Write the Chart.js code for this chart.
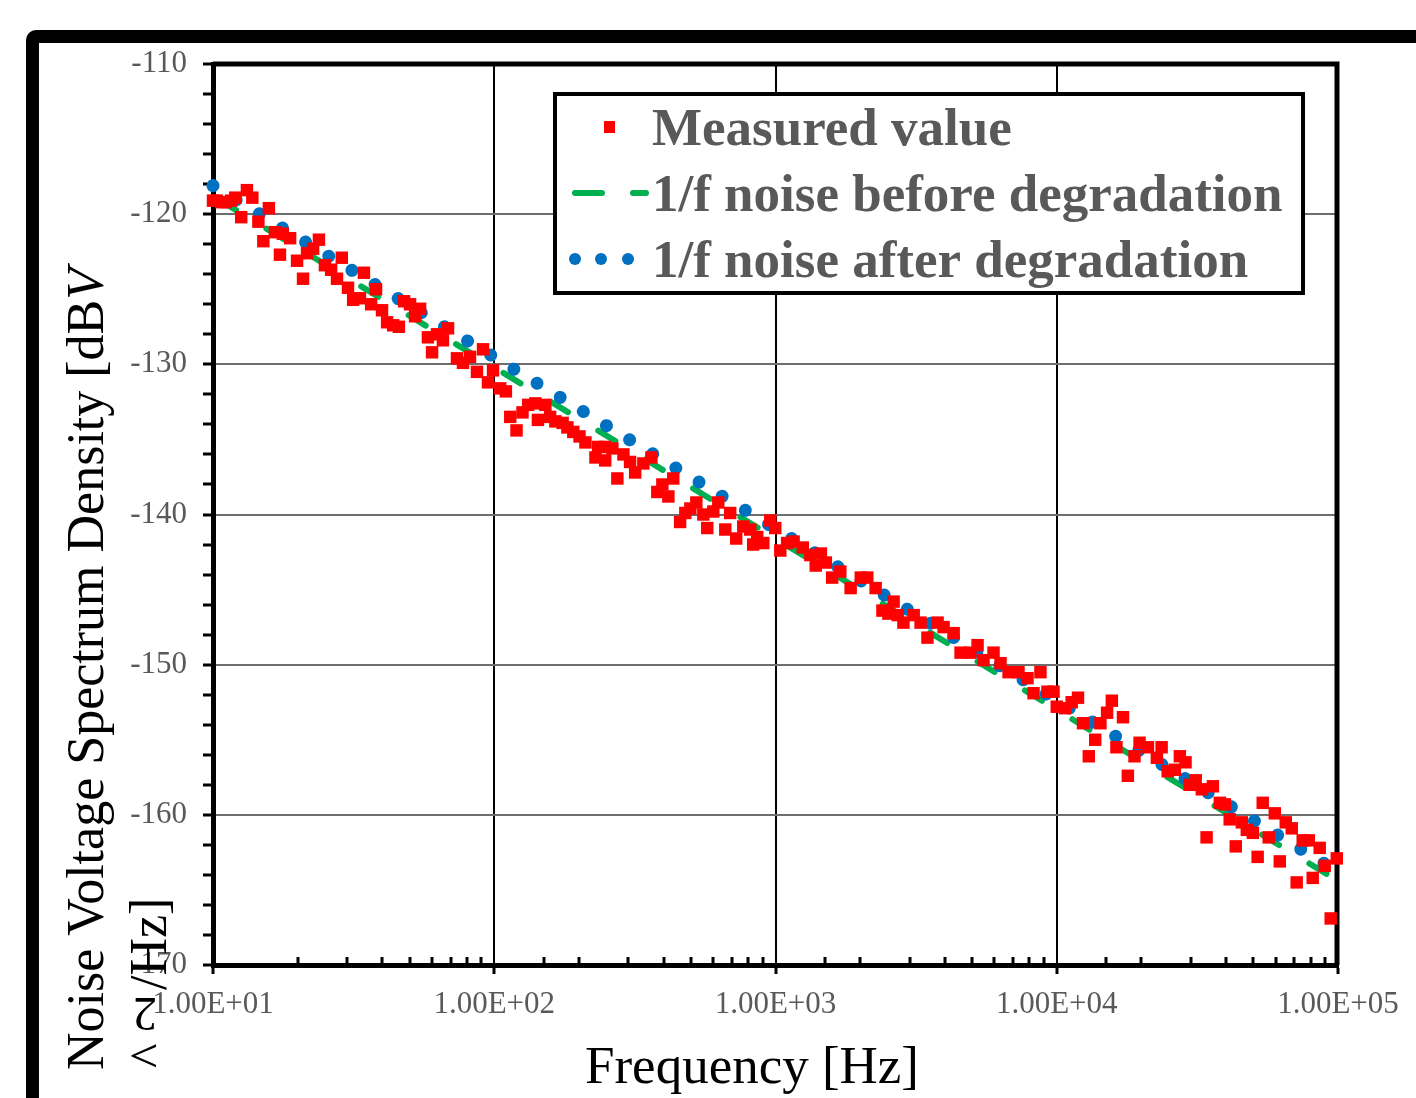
<!DOCTYPE html>
<html>
<head>
<meta charset="utf-8">
<script src="https://cdn.jsdelivr.net/npm/chart.js@4.4.1/dist/chart.umd.min.js"></script>
<style>
html,body{margin:0;padding:0;background:#fff;overflow:hidden;width:1416px;height:1098px;}
#frame{position:absolute;left:26px;top:30px;width:1600px;height:1300px;border:13px solid #000;border-radius:10px;box-sizing:border-box;}
#wrap{position:absolute;left:0;top:0;width:1416px;height:1098px;}
</style>
</head>
<body>
<div id="frame"></div>
<div id="wrap"><canvas id="c" width="1416" height="1098"></canvas></div>
<script>
// ---- data ----
const frequencies = [
10.0,10.3,10.7,11.1,11.6,12.0,12.6,13.2,13.8,14.5,
15.1,15.8,16.6,17.3,17.7,18.8,19.9,20.9,21.6,22.7,
23.8,25.0,26.3,27.6,28.7,30.2,31.5,33.3,34.4,36.5,
38.0,39.9,41.6,43.7,45.8,47.8,50.2,52.3,54.5,58.1,
60.1,62.6,65.7,68.5,73.7,77.4,82.0,86.8,91.2,95.0,
99.0,
105,110,114,120,126,132,140,143,152,158,
165,175,182,191,201,211,229,234,248,248,
263,274,288,304,317,339,362,380,396,416,
433,458,478,498,523,554,572,601,626,663,
690,725,768,813,833,861,905,958,998,
1040,1100,1160,1250,1330,1390,1450,1510,1590,1700,
1850,2010,2120,2270,2400,2520,2630,2720,2850,3100,
3280,3470,3770,3960,4300,4550,4930,5230,5490,5960,
6310,6740,7310,7870,8270,8750,9270,9740,
10000,10700,11300,11900,12400,13000,13700,14300,15100,15700,
16300,17200,17900,18900,19700,21100,22700,23600,24800,26300,
27400,28700,29700,31200,32800,34100,35900,38000,39600,41200,
43300,45500,47400,49800,51800,54000,56700,59600,62100,65200,
68500,71300,74900,78700,81300,86100,89700,94200,99000
];
const measured = [
-119.1,-119.1,-119.2,-119.2,-119.1,-118.9,-120.2,-118.4,-118.9,-120.5,
-121.8,-119.6,-121.2,-122.7,-121.3,-121.6,-123.1,-124.3,-122.6,-122.3,
-121.7,-123.4,-123.7,-124.3,-122.9,-124.9,-125.7,-125.6,-123.9,-126.0,
-125.0,-126.4,-127.2,-127.4,-127.5,-125.8,-126.0,-126.8,-126.3,-128.2,
-129.2,-128.0,-128.4,-127.6,-129.6,-129.9,-129.5,-130.5,-129.0,-131.2,
-130.4,
-131.6,-131.8,-133.5,-134.4,-133.2,-132.7,-132.6,-133.7,-132.7,-133.5,
-133.8,-133.9,-134.2,-134.5,-134.8,-135.2,-136.2,-135.5,-135.5,-136.4,
-135.6,-137.6,-136.0,-136.5,-137.2,-136.6,-136.2,-138.5,-138.0,-138.8,
-137.6,-140.5,-139.9,-139.6,-139.2,-140.0,-140.9,-139.8,-139.2,-141.0,
-139.9,-141.6,-140.8,-141.0,-142.0,-141.5,-141.9,-140.4,-140.9,
-142.4,-141.9,-141.8,-142.2,-142.7,-143.4,-142.6,-143.2,-144.2,-143.8,
-144.9,-144.2,-144.2,-144.9,-146.4,-146.6,-145.8,-146.7,-147.2,-146.7,
-147.2,-148.2,-147.2,-147.5,-147.9,-149.2,-149.2,-148.7,-149.7,-149.2,
-149.9,-150.5,-150.5,-150.9,-151.9,-150.5,-151.8,-151.8,
-152.8,-152.9,-152.5,-152.2,-153.9,-156.1,-155.0,-153.9,-153.2,-152.4,
-155.5,-153.5,-157.4,-156.1,-155.2,-155.5,-156.2,-155.5,-157.1,-157.0,
-156.1,-156.5,-158.0,-157.7,-158.3,-161.5,-158.1,-159.2,-159.3,-160.3,
-162.1,-160.5,-161.0,-161.2,-162.8,-159.2,-161.5,-159.9,-163.1,-160.5,
-160.9,-164.5,-161.7,-161.7,-164.2,-162.2,-163.4,-166.9,-162.9
];
const fitFrequencies = [10, 100000];
const beforeDegradation = [-118.8, -164.4];
const afterDegradation = [-118.1, -163.8];

const seriesLabels = ['Measured value', '1/f noise before degradation', '1/f noise after degradation'];
const yTickValues = [-110, -120, -130, -140, -150, -160, -170];
const xTickValues = [10, 100, 1000, 10000, 100000];
const xTickLabels = ['1.00E+01', '1.00E+02', '1.00E+03', '1.00E+04', '1.00E+05'];
const xTitle = 'Frequency [Hz]';
const yTitleMain = 'Noise Voltage Spectrum Density [dB';
const yTitleItalic = 'V';
const yTitleCaret = '^';
const yTitleSquare = '2';
const yTitleUnit = '/Hz]';

// ---- styling ----
const RED = '#FF0000', GREEN = '#00B050', BLUE = '#0070C0', GRAYTXT = '#595959';
const SERIF = '"Liberation Serif", "Times New Roman", serif';

function isDecade(v) {
  const l = Math.log10(v);
  return Math.abs(l - Math.round(l)) < 1e-6;
}
function xLabelFor(v) {
  for (let i = 0; i < xTickValues.length; i++) {
    if (Math.abs(v - xTickValues[i]) / xTickValues[i] < 1e-6) return xTickLabels[i];
  }
  return '';
}

const decor = {
  id: 'decor',
  beforeDatasetsDraw(chart) {
    const {ctx, chartArea: a} = chart;
    const x = chart.scales.x;
    ctx.save();
    // minor ticks on the x axis (inside)
    ctx.strokeStyle = '#000';
    ctx.lineWidth = 3;
    x.ticks.forEach(t => {
      if (isDecade(t.value)) return;
      const px = Math.round(x.getPixelForValue(t.value));
      ctx.beginPath();
      ctx.moveTo(px, a.bottom);
      ctx.lineTo(px, a.bottom - 8);
      ctx.stroke();
    });
    // top and right border of plot area
    ctx.lineWidth = 5;
    ctx.lineJoin = 'miter';
    ctx.beginPath();
    ctx.moveTo(a.left, a.top);
    ctx.lineTo(a.right - 1, a.top);
    ctx.lineTo(a.right - 1, a.bottom);
    ctx.stroke();
    ctx.restore();
  },
  afterDraw(chart) {
    const ctx = chart.ctx;
    ctx.save();
    // x title
    ctx.fillStyle = '#000';
    ctx.font = '53px ' + SERIF;
    ctx.textAlign = 'center';
    ctx.textBaseline = 'alphabetic';
    ctx.fillText(xTitle, 752, 1083);

    // y title line 1
    ctx.save();
    ctx.translate(103, 1070);
    ctx.rotate(-Math.PI / 2);
    ctx.textAlign = 'left';
    ctx.font = '52px ' + SERIF;
    ctx.fillText(yTitleMain, 0, 0);
    const w = ctx.measureText(yTitleMain).width;
    ctx.font = 'italic 52px ' + SERIF;
    ctx.fillText(yTitleItalic, w, 0);
    ctx.restore();

    // y title line 2
    ctx.save();
    ctx.translate(166, 1068);
    ctx.rotate(-Math.PI / 2);
    ctx.textAlign = 'left';
    ctx.font = '52px ' + SERIF;
    ctx.fillText(yTitleCaret, 0, 0);
    ctx.restore();

    ctx.save();
    ctx.translate(145, 1011);
    ctx.rotate(Math.PI);
    ctx.textAlign = 'center';
    ctx.textBaseline = 'middle';
    ctx.font = '48px ' + SERIF;
    ctx.fillText(yTitleSquare, 0, 0);
    ctx.restore();

    ctx.save();
    ctx.translate(166, 990);
    ctx.rotate(-Math.PI / 2);
    ctx.textAlign = 'left';
    ctx.font = '52px ' + SERIF;
    ctx.fillText(yTitleUnit, 0, 0);
    ctx.restore();

    // legend box
    const L = 555, T = 94, R = 1303, B = 293;
    ctx.fillStyle = '#fff';
    ctx.fillRect(L, T, R - L, B - T);
    ctx.strokeStyle = '#000';
    ctx.lineWidth = 4;
    ctx.strokeRect(L, T, R - L, B - T);

    const ds = chart.data.datasets;
    const rows = [145, 211, 277];
    const mids = [127, 193, 259];
    // measured marker
    ctx.fillStyle = ds[0].backgroundColor;
    ctx.fillRect(604, mids[0] - 6, 11, 12);
    // dashed green
    ctx.strokeStyle = ds[1].borderColor;
    ctx.lineWidth = 6;
    ctx.lineCap = 'round';
    ctx.beginPath();
    ctx.moveTo(575, mids[1]); ctx.lineTo(602, mids[1]);
    ctx.moveTo(633, mids[1]); ctx.lineTo(646, mids[1]);
    ctx.stroke();
    // dotted blue
    ctx.fillStyle = ds[2].borderColor;
    [575, 601, 628].forEach(cx => {
      ctx.beginPath();
      ctx.arc(cx, mids[2], 6, 0, Math.PI * 2);
      ctx.fill();
    });
    ctx.fillStyle = GRAYTXT;
    ctx.font = 'bold 53px ' + SERIF;
    ctx.textAlign = 'left';
    ctx.textBaseline = 'alphabetic';
    ds.forEach((d, i) => ctx.fillText(d.label, 652, rows[i]));
    ctx.restore();
  }
};

Chart.defaults.font.family = SERIF;

new Chart(document.getElementById('c'), {
  type: 'scatter',
  data: {
    datasets: [
      {
        label: seriesLabels[0],
        data: frequencies.map((f, i) => ({x: f, y: measured[i]})),
        pointStyle: 'rect',
        pointRadius: 8.8,
        pointHoverRadius: 8.8,
        backgroundColor: RED,
        borderColor: RED,
        borderWidth: 0,
        showLine: false,
        order: 0,
        clip: false
      },
      {
        label: seriesLabels[1],
        data: fitFrequencies.map((f, i) => ({x: f, y: beforeDegradation[i]})),
        showLine: true,
        borderColor: GREEN,
        backgroundColor: GREEN,
        borderWidth: 6,
        borderDash: [20, 35.5],
        borderDashOffset: -7,
        borderCapStyle: 'round',
        pointRadius: 0,
        pointHoverRadius: 0,
        order: 2,
        clip: false
      },
      {
        label: seriesLabels[2],
        data: fitFrequencies.map((f, i) => ({x: f, y: afterDegradation[i]})),
        showLine: true,
        borderColor: BLUE,
        backgroundColor: BLUE,
        borderWidth: 13,
        borderDash: [0.01, 27.1],
        borderCapStyle: 'round',
        pointRadius: 0,
        pointHoverRadius: 0,
        order: 1,
        clip: false
      }
    ]
  },
  options: {
    responsive: false,
    animation: false,
    events: [],
    layout: {padding: {top: 64, right: 78, left: 0, bottom: 0}},
    plugins: {legend: {display: false}, tooltip: {enabled: false}},
    scales: {
      x: {
        type: 'logarithmic',
        min: 10,
        max: 100000,
        afterFit(s) { s.height = 133; },
        border: {display: true, color: '#000', width: 5},
        grid: {
          color: c => isDecade(c.tick.value) ? '#000' : 'rgba(0,0,0,0)',
          lineWidth: 2,
          tickColor: c => isDecade(c.tick.value) ? '#000' : 'rgba(0,0,0,0)',
          tickLength: 9,
          tickWidth: 3
        },
        ticks: {
          autoSkip: false,
          maxRotation: 0,
          minRotation: 0,
          padding: 12,
          color: GRAYTXT,
          font: {size: 31, family: SERIF},
          callback: v => xLabelFor(v)
        }
      },
      y: {
        type: 'linear',
        min: -170,
        max: -110,
        afterFit(s) { s.width = 213; },
        border: {display: true, color: '#000', width: 5},
        grid: {
          color: c => (yTickValues.includes(c.tick.value) ? '#6e6e6e' : 'rgba(0,0,0,0)'),
          lineWidth: 2,
          tickColor: '#000',
          tickLength: 10,
          tickWidth: 3
        },
        ticks: {
          stepSize: 2,
          autoSkip: false,
          padding: 16,
          color: GRAYTXT,
          font: {size: 31, family: SERIF},
          callback: v => (yTickValues.includes(v) ? String(v) : '')
        }
      }
    }
  },
  plugins: [decor]
});
</script>
</body>
</html>
